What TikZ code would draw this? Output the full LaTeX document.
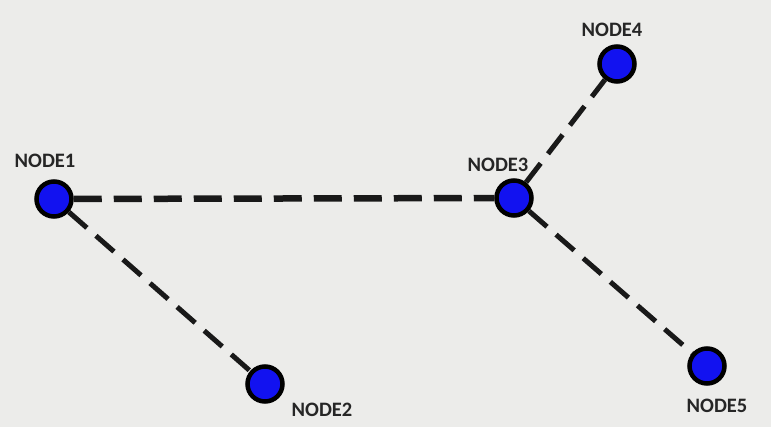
\documentclass[tikz,border=0pt]{standalone}
\usepackage{fontspec}
\setmainfont{Carlito}
\begin{document}
\begin{tikzpicture}[x=1pt,y=-1pt,
  dot/.style={circle,draw=black,line width=4.5pt,fill=netblue,minimum size=35pt,inner sep=0pt},
  lbl/.style={font=\bfseries\fontsize{20.5}{20.5}\selectfont,text=black!85,inner sep=0pt},
  link/.style={line width=5pt,dash pattern=on 24pt off 12pt,draw=black!90},
  thick link/.style={line width=6.5pt,dash pattern=on 28pt off 12pt,draw=black!90}]
\definecolor{netblue}{RGB}{18,18,240}
\definecolor{bg}{RGB}{236,236,234}
\fill[bg] (0,0) rectangle (771,427);
\useasboundingbox (0,0) rectangle (771,427);
\node[dot] (n1) at (54,199) {};
\node[dot] (n2) at (265,384) {};
\node[dot] (n3) at (514,198) {};
\node[dot] (n4) at (617,64) {};
\node[dot] (n5) at (707,366) {};
\node[lbl] (l1) at (45,161) {NODE1};
\node[lbl] (l2) at (322,410) {NODE2};
\node[lbl] (l3) at (498,165) {NODE3};
\node[lbl] (l4) at (612,30) {NODE4};
\node[lbl] (l5) at (717,406) {NODE5};
\draw[thick link] (n1) -- (n3);
\draw[link] (n1) -- (n2);
\draw[link] (n3) -- (n4);
\draw[link] (n3) -- (n5);
\end{tikzpicture}
\end{document}
